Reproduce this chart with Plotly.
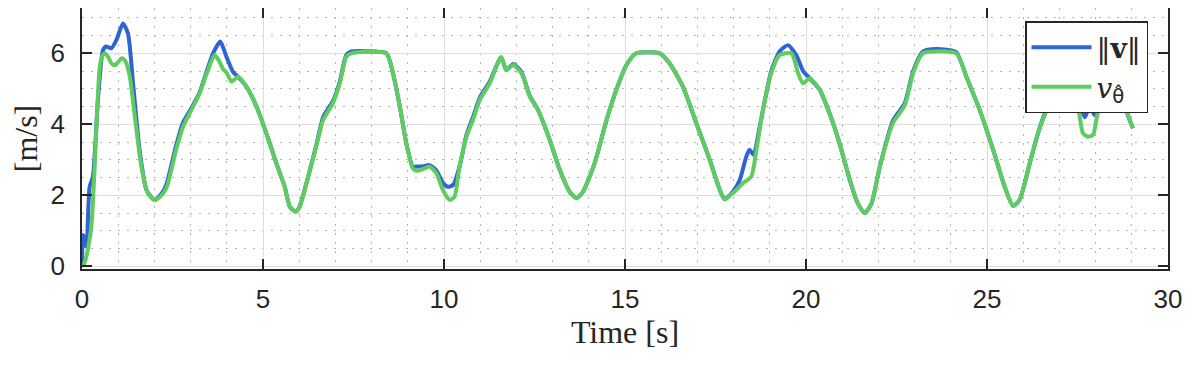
import plotly.graph_objects as go

# speed magnitude ||v||
t_speed = [0.0, 0.03, 0.12, 0.21, 0.3, 0.44, 0.58, 0.67, 0.81, 0.95, 1.13, 1.27, 1.41, 1.59, 1.78,
           2.0, 2.2, 2.33, 2.6, 2.79, 3.02, 3.25, 3.48, 3.62, 3.82, 3.99, 4.17, 4.31, 4.54, 4.82,
           5.09, 5.37, 5.6, 5.74, 5.9, 6.01, 6.2, 6.47, 6.66, 6.93, 7.12, 7.3, 7.44, 7.8, 8.41,
           8.59, 8.78, 8.96, 9.14, 9.24, 9.45, 9.6, 9.79, 9.97, 10.11, 10.25, 10.43, 10.62, 10.8,
           10.99, 11.26, 11.58, 11.72, 11.91, 12.14, 12.37, 12.6, 12.92, 13.2, 13.47, 13.66, 13.84,
           14.16, 14.49, 14.76, 15.04, 15.31, 15.96, 16.23, 16.6, 16.97, 17.34, 17.62, 17.75, 17.98,
           18.17, 18.35, 18.44, 18.55, 18.72, 18.81, 19.04, 19.27, 19.5, 19.73, 19.92, 20.1, 20.38,
           20.65, 20.93, 21.21, 21.39, 21.48, 21.62, 21.81, 22.04, 22.4, 22.73, 22.96, 23.23, 23.6,
           24.15, 24.43, 24.8, 25.17, 25.49, 25.72, 25.9, 26.18, 26.41, 26.65, 26.9, 27.2, 27.47,
           27.56, 27.7, 27.84, 27.97, 28.07, 28.3, 28.5, 28.76, 28.94, 29.03]
v_speed = [0.0, 0.88, 0.55, 2.24, 2.52, 4.68, 6.09, 6.19, 6.14, 6.37, 6.84, 6.56, 5.15, 3.28, 2.15,
           1.87, 2.05, 2.3, 3.4, 4.05, 4.45, 4.9, 5.6, 6.0, 6.33, 5.9, 5.48, 5.34, 5.06, 4.5,
           3.75, 2.9, 2.24, 1.68, 1.54, 1.68, 2.34, 3.4, 4.2, 4.65, 5.2, 5.95, 6.05, 6.06, 6.0,
           5.44, 4.5, 3.46, 2.8, 2.81, 2.82, 2.85, 2.7, 2.35, 2.24, 2.29, 2.81, 3.7, 4.2,
           4.75, 5.2, 5.89, 5.53, 5.7, 5.47, 4.8, 4.4, 3.56, 2.71, 2.1, 1.92, 2.1,
           2.9, 4.12, 4.97, 5.67, 6.0, 6.0, 5.72, 5.06, 4.03, 3.0, 2.15, 1.89, 2.1,
           2.43, 3.09, 3.28, 3.14, 3.93, 4.4, 5.5, 6.05, 6.23, 5.95, 5.5, 5.3, 4.97,
           4.31, 3.45, 2.43, 1.87, 1.68, 1.5, 1.77, 2.81, 4.1, 4.6, 5.5, 6.05, 6.12,
           6.03, 5.34, 4.4, 3.28, 2.24, 1.7, 1.87, 2.9, 3.75, 4.45, 5.0, 5.1, 4.8,
           4.59, 4.2, 4.5, 4.26, 4.64, 5.2, 5.3, 4.64, 4.12, 3.89]

# reference speed v_theta
t_ref = [0.0, 0.05, 0.12, 0.2, 0.26, 0.35, 0.42, 0.49, 0.57, 0.63, 0.72, 0.81, 0.9, 0.97, 1.1,
         1.2, 1.32, 1.46, 1.64, 1.82, 2.0, 2.15, 2.33, 2.6, 2.79, 3.02, 3.25, 3.48, 3.66, 3.78,
         3.9, 4.0, 4.13, 4.31, 4.54, 4.82, 5.09, 5.37, 5.6, 5.74, 5.9, 6.01, 6.2, 6.47, 6.66,
         6.93, 7.12, 7.3, 7.44, 8.41, 8.59, 8.78, 8.96, 9.14, 9.24, 9.45, 9.6, 9.79, 9.97, 10.16,
         10.29, 10.43, 10.62, 10.8, 10.99, 11.26, 11.58, 11.72, 11.91, 12.14, 12.37, 12.6, 12.92,
         13.2, 13.47, 13.66, 13.84, 14.16, 14.49, 14.76, 15.04, 15.31, 15.96, 16.23, 16.6, 16.97,
         17.34, 17.62, 17.75, 17.98, 18.26, 18.49, 18.63, 18.81, 19.04, 19.27, 19.6, 19.78, 19.92,
         20.1, 20.38, 20.65, 20.93, 21.21, 21.39, 21.48, 21.62, 21.81, 22.04, 22.4, 22.73, 22.96,
         23.23, 24.15, 24.43, 24.8, 25.17, 25.49, 25.72, 25.9, 26.18, 26.41, 26.65, 26.9, 27.2,
         27.47, 27.65, 27.79, 27.93, 28.02, 28.2, 28.45, 28.76, 28.94, 29.03]
v_ref = [0.0, 0.05, 0.27, 0.7, 1.12, 2.8, 4.4, 5.62, 5.95, 6.0, 5.9, 5.72, 5.66, 5.72, 5.86,
         5.78, 5.34, 4.21, 2.8, 2.06, 1.87, 1.95, 2.2, 3.28, 3.93, 4.4, 4.87, 5.53, 5.95, 5.8,
         5.55, 5.45, 5.2, 5.34, 5.06, 4.5, 3.75, 2.9, 2.24, 1.68, 1.54, 1.68, 2.34, 3.37, 4.12,
         4.59, 5.15, 5.9, 6.0, 6.0, 5.44, 4.5, 3.46, 2.76, 2.69, 2.75, 2.81, 2.62, 2.15, 1.87,
         1.96, 2.81, 3.65, 4.12, 4.69, 5.15, 5.89, 5.53, 5.67, 5.44, 4.78, 4.4, 3.56,
         2.71, 2.1, 1.92, 2.1, 2.9, 4.12, 4.97, 5.67, 6.0, 6.0, 5.72, 5.06, 4.03,
         3.0, 2.15, 1.89, 2.06, 2.34, 2.53, 3.28, 4.4, 5.44, 5.95, 6.0, 5.44, 5.15,
         5.3, 4.97, 4.31, 3.45, 2.43, 1.87, 1.68, 1.5, 1.77, 2.81, 4.03, 4.54, 5.44,
         6.0, 6.0, 5.34, 4.4, 3.28, 2.24, 1.7, 1.87, 2.9, 3.75, 4.4, 4.9, 5.0,
         4.69, 3.75, 3.65, 3.7, 4.12, 4.9, 5.1, 4.64, 4.12, 3.89]

x_ticks = [0, 5, 10, 15, 20, 25, 30]
y_ticks = [0, 2, 4, 6]

blue = '#2f64d4'
green = '#5fcc5f'
dark = '#262626'

fig = go.Figure()
fig.add_trace(go.Scatter(x=t_speed, y=v_speed, mode='lines', name='‖<b>v</b>‖',
                         line=dict(color=blue, width=4, shape='spline', smoothing=0.6)))
fig.add_trace(go.Scatter(x=t_ref, y=v_ref, mode='lines',
                         name='<i>v</i><sub><span style="font-family:DejaVu Sans">θ̂</span></sub>',
                         line=dict(color=green, width=4, shape='spline', smoothing=0.6)))

axis_common = dict(showline=True, linecolor=dark, linewidth=1.5, mirror='allticks',
                   ticks='inside', ticklen=10, tickwidth=1.5, tickcolor=dark,
                   showgrid=True, gridcolor='#dedede', gridwidth=1.2, zeroline=False,
                   automargin=False,
                   tickfont=dict(family='Liberation Sans', size=26, color=dark))

# the page body adds an 8px offset, so the figure is 8px smaller than the window
fig.update_layout(
    width=1188, height=358, autosize=False,
    margin=dict(l=74, r=28, t=0, b=97),
    plot_bgcolor='white', paper_bgcolor='white',
    xaxis=dict(range=[0, 30], tickvals=x_ticks, ticklabelstandoff=6,
               minor=dict(dtick=1, showgrid=True, gridcolor='#b4b4b4', griddash='2px,7px',
                          gridwidth=1, ticks=''),
               title=dict(text='Time [s]', standoff=6,
                          font=dict(family='Liberation Serif', size=32, color=dark)),
               **axis_common),
    yaxis=dict(range=[-0.076, 7.276], tickvals=y_ticks, ticklabelstandoff=10,
               minor=dict(dtick=0.5, showgrid=True, gridcolor='#b4b4b4', griddash='2px,7px',
                          gridwidth=1, ticks=''),
               title=dict(text='[m/s]', standoff=6,
                          font=dict(family='Liberation Serif', size=32, color=dark)),
               **axis_common),
    legend=dict(x=0.9816, y=0.95, xanchor='right', yanchor='top',
                bgcolor='white', bordercolor=dark, borderwidth=1.5,
                font=dict(family='DejaVu Serif', size=28, color=dark),
                itemwidth=60, tracegroupgap=0),
    showlegend=True,
)

fig.write_html("out.html")
